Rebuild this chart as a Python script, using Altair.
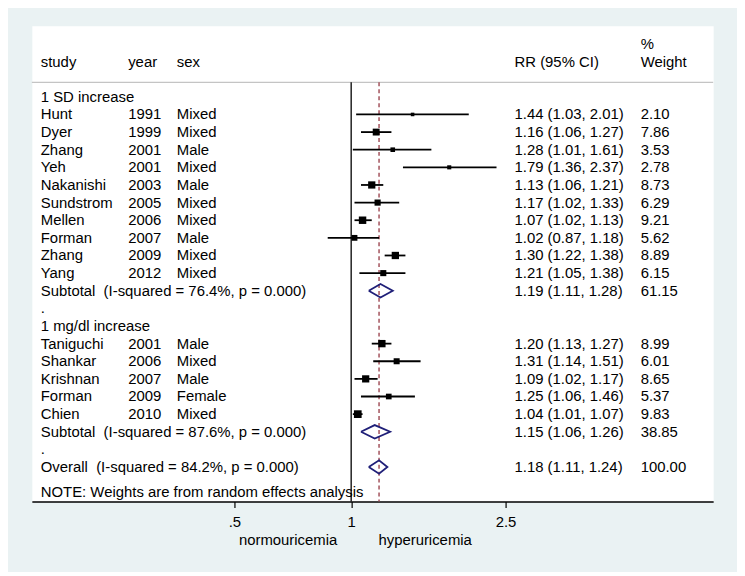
import altair as alt
import pandas as pd

# ---------------- data ----------------
group_labels = ["1 SD increase", "1 mg/dl increase"]

g1_study = ["Hunt", "Dyer", "Zhang", "Yeh", "Nakanishi", "Sundstrom", "Mellen", "Forman", "Zhang", "Yang"]
g1_year = [1991, 1999, 2001, 2001, 2003, 2005, 2006, 2007, 2009, 2012]
g1_sex = ["Mixed", "Mixed", "Male", "Mixed", "Male", "Mixed", "Mixed", "Male", "Mixed", "Mixed"]
g1_rr = [1.44, 1.16, 1.28, 1.79, 1.13, 1.17, 1.07, 1.02, 1.30, 1.21]
g1_lo = [1.03, 1.06, 1.01, 1.36, 1.06, 1.02, 1.02, 0.87, 1.22, 1.05]
g1_hi = [2.01, 1.27, 1.61, 2.37, 1.21, 1.33, 1.13, 1.18, 1.38, 1.38]
g1_w = [2.10, 7.86, 3.53, 2.78, 8.73, 6.29, 9.21, 5.62, 8.89, 6.15]

g2_study = ["Taniguchi", "Shankar", "Krishnan", "Forman", "Chien"]
g2_year = [2001, 2006, 2007, 2009, 2010]
g2_sex = ["Male", "Mixed", "Male", "Female", "Mixed"]
g2_rr = [1.20, 1.31, 1.09, 1.25, 1.04]
g2_lo = [1.13, 1.14, 1.02, 1.06, 1.01]
g2_hi = [1.27, 1.51, 1.17, 1.46, 1.07]
g2_w = [8.99, 6.01, 8.65, 5.37, 9.83]

sub_rr = [1.19, 1.15]
sub_lo = [1.11, 1.06]
sub_hi = [1.28, 1.26]
sub_w = [61.15, 38.85]
sub_i2 = [76.4, 87.6]
sub_p = ["0.000", "0.000"]

overall_rr = 1.18
overall_lo = 1.11
overall_hi = 1.24
overall_w = 100.00
overall_i2 = 84.2
overall_p = "0.000"

tick_values = [0.5, 1, 2.5]
tick_labels = [".5", "1", "2.5"]
axis_left_label = "normouricemia"
axis_right_label = "hyperuricemia"
note_text = "NOTE: Weights are from random effects analysis"

# ---------------- build tables ----------------
study_rows, label_rows, pooled_rows = [], [], []
row = 0
groups = [
    (g1_study, g1_year, g1_sex, g1_rr, g1_lo, g1_hi, g1_w),
    (g2_study, g2_year, g2_sex, g2_rr, g2_lo, g2_hi, g2_w),
]
for gi, (st, yr, sx, rr, lo, hi, w) in enumerate(groups):
    label_rows.append({"row": row, "txt": group_labels[gi]})
    row += 1
    for k in range(len(st)):
        study_rows.append({"row": row, "study": st[k], "year": str(yr[k]), "sex": sx[k],
                           "rr": rr[k], "lo": lo[k], "hi": hi[k], "w": w[k],
                           "ci": f"{rr[k]:.2f} ({lo[k]:.2f}, {hi[k]:.2f})", "wt": f"{w[k]:.2f}"})
        row += 1
    pooled_rows.append({"row": row, "id": f"sub{gi}",
                        "txt": f"Subtotal\u00a0 (I-squared = {sub_i2[gi]:.1f}%, p = {sub_p[gi]})",
                        "rr": sub_rr[gi], "lo": sub_lo[gi], "hi": sub_hi[gi],
                        "ci": f"{sub_rr[gi]:.2f} ({sub_lo[gi]:.2f}, {sub_hi[gi]:.2f})",
                        "wt": f"{sub_w[gi]:.2f}"})
    row += 1
    label_rows.append({"row": row, "txt": "."})
    row += 1
pooled_rows.append({"row": row, "id": "overall",
                    "txt": f"Overall\u00a0 (I-squared = {overall_i2:.1f}%, p = {overall_p})",
                    "rr": overall_rr, "lo": overall_lo, "hi": overall_hi,
                    "ci": f"{overall_rr:.2f} ({overall_lo:.2f}, {overall_hi:.2f})",
                    "wt": f"{overall_w:.2f}"})
note_row = row + 1.4
label_rows.append({"row": note_row, "txt": note_text})

studies = pd.DataFrame(study_rows)
labels = pd.DataFrame(label_rows)
pooled = pd.DataFrame(pooled_rows)

half = 0.38
dia = []
for p in pooled_rows:
    pts = [(p["lo"], p["row"]), (p["rr"], p["row"] - half), (p["hi"], p["row"]),
           (p["rr"], p["row"] + half), (p["lo"], p["row"])]
    for o, (xv, yv) in enumerate(pts):
        dia.append({"id": p["id"], "ord": o, "x": xv, "row": yv})
diamonds = pd.DataFrame(dia)

header_row = -2.0
pct_row = -3.0
line_row = -0.82
y_top, y_bot = -4.028, 22.958

W, H = 686, 479
FONT = "Liberation Sans"
FS = 15

xscale = alt.Scale(type="log", domain=[0.1502, 8.577], nice=False, zero=False)
yscale = alt.Scale(domain=[y_top, y_bot], reverse=True, nice=False, zero=False)
label_expr = " : ".join(
    [f"datum.value == {v} ? '{l}'" for v, l in zip(tick_values, tick_labels)]) + " : ''"
xaxis = alt.Axis(values=tick_values, labelExpr=label_expr, title=None, grid=False,
                 domainColor="black", domainWidth=1.6, tickColor="black", tickSize=6,
                 tickWidth=1.2, labelFont=FONT, labelFontSize=FS, labelColor="black",
                 labelPadding=7, labelFlush=False)


def X(field):
    return alt.X(field, scale=xscale, axis=xaxis)


def Y(field="row:Q"):
    return alt.Y(field, scale=yscale, axis=None)


vref = pd.DataFrame({"x": [1.0], "y1": [line_row], "y2": [y_bot]})
vdash = pd.DataFrame({"x": [overall_rr], "y1": [line_row], "y2": [y_bot]})
hline = pd.DataFrame({"row": [line_row]})

ref_line = alt.Chart(vref).mark_rule(color="black", strokeWidth=1.3).encode(
    x=X("x:Q"), y=Y("y1:Q"), y2="y2:Q")
dash_line = alt.Chart(vdash).mark_rule(color="#a3525c", strokeWidth=1.5, strokeDash=[4, 3]).encode(
    x=X("x:Q"), y=Y("y1:Q"), y2="y2:Q")
head_line = alt.Chart(hline).mark_rule(color="#c4c4c4", strokeWidth=1.2).encode(
    y=Y(), x=alt.value(0), x2=alt.value(W))

ci = alt.Chart(studies).mark_rule(color="black", strokeWidth=1.8).encode(
    x=X("lo:Q"), x2="hi:Q", y=Y())
boxes = alt.Chart(studies).mark_square(color="black", opacity=1).encode(
    x=X("rr:Q"), y=Y(),
    size=alt.Size("w:Q", scale=alt.Scale(domain=[0, 10], range=[0, 61]), legend=None))
dia_layer = alt.Chart(diamonds).mark_line(color="#1f1f78", strokeWidth=1.8).encode(
    x=X("x:Q"), y=Y(), detail="id:N", order="ord:Q")


def txt(df, field, xpx, align="left"):
    return alt.Chart(df).mark_text(font=FONT, fontSize=FS, color="black", align=align,
                                   baseline="middle").encode(
        x=alt.value(xpx), y=Y(), text=field)


header = pd.DataFrame({"row": [header_row], "study": ["study"], "year": ["year"],
                       "sex": ["sex"], "ci": ["RR (95% CI)"], "wt": ["Weight"]})
pct = pd.DataFrame({"row": [pct_row], "t": ["%"]})

layers = [
    head_line, ref_line, dash_line, ci, boxes, dia_layer,
    txt(header, "study:N", 9), txt(header, "year:N", 97), txt(header, "sex:N", 146),
    txt(header, "ci:N", 486), txt(header, "wt:N", 613), txt(pct, "t:N", 613),
    txt(studies, "study:N", 9), txt(studies, "year:N", 97), txt(studies, "sex:N", 146),
    txt(studies, "ci:N", 486), txt(studies, "wt:N", 613),
    txt(labels, "txt:N", 9),
    txt(pooled, "txt:N", 9), txt(pooled, "ci:N", 486), txt(pooled, "wt:N", 613),
]

axis_titles = pd.DataFrame({"t": [axis_left_label, axis_right_label]})
left_t = alt.Chart(axis_titles.iloc[[0]]).mark_text(font=FONT, fontSize=FS, color="black",
                                                    align="center", baseline="middle").encode(
    x=alt.value(258), y=alt.value(H + 39), text="t:N")
right_t = alt.Chart(axis_titles.iloc[[1]]).mark_text(font=FONT, fontSize=FS, color="black",
                                                     align="center", baseline="middle").encode(
    x=alt.value(396), y=alt.value(H + 39), text="t:N")
layers += [left_t, right_t]

chart = alt.layer(*layers).properties(
    width=W, height=H, background="#eaf2f3",
    padding={"left": 24, "top": 16, "right": 24, "bottom": 69},
    autosize=alt.AutoSizeParams(type="none"),
).configure_view(fill="white", stroke="transparent")

chart.save("out.html", embed_options={"renderer": "svg", "actions": False})
